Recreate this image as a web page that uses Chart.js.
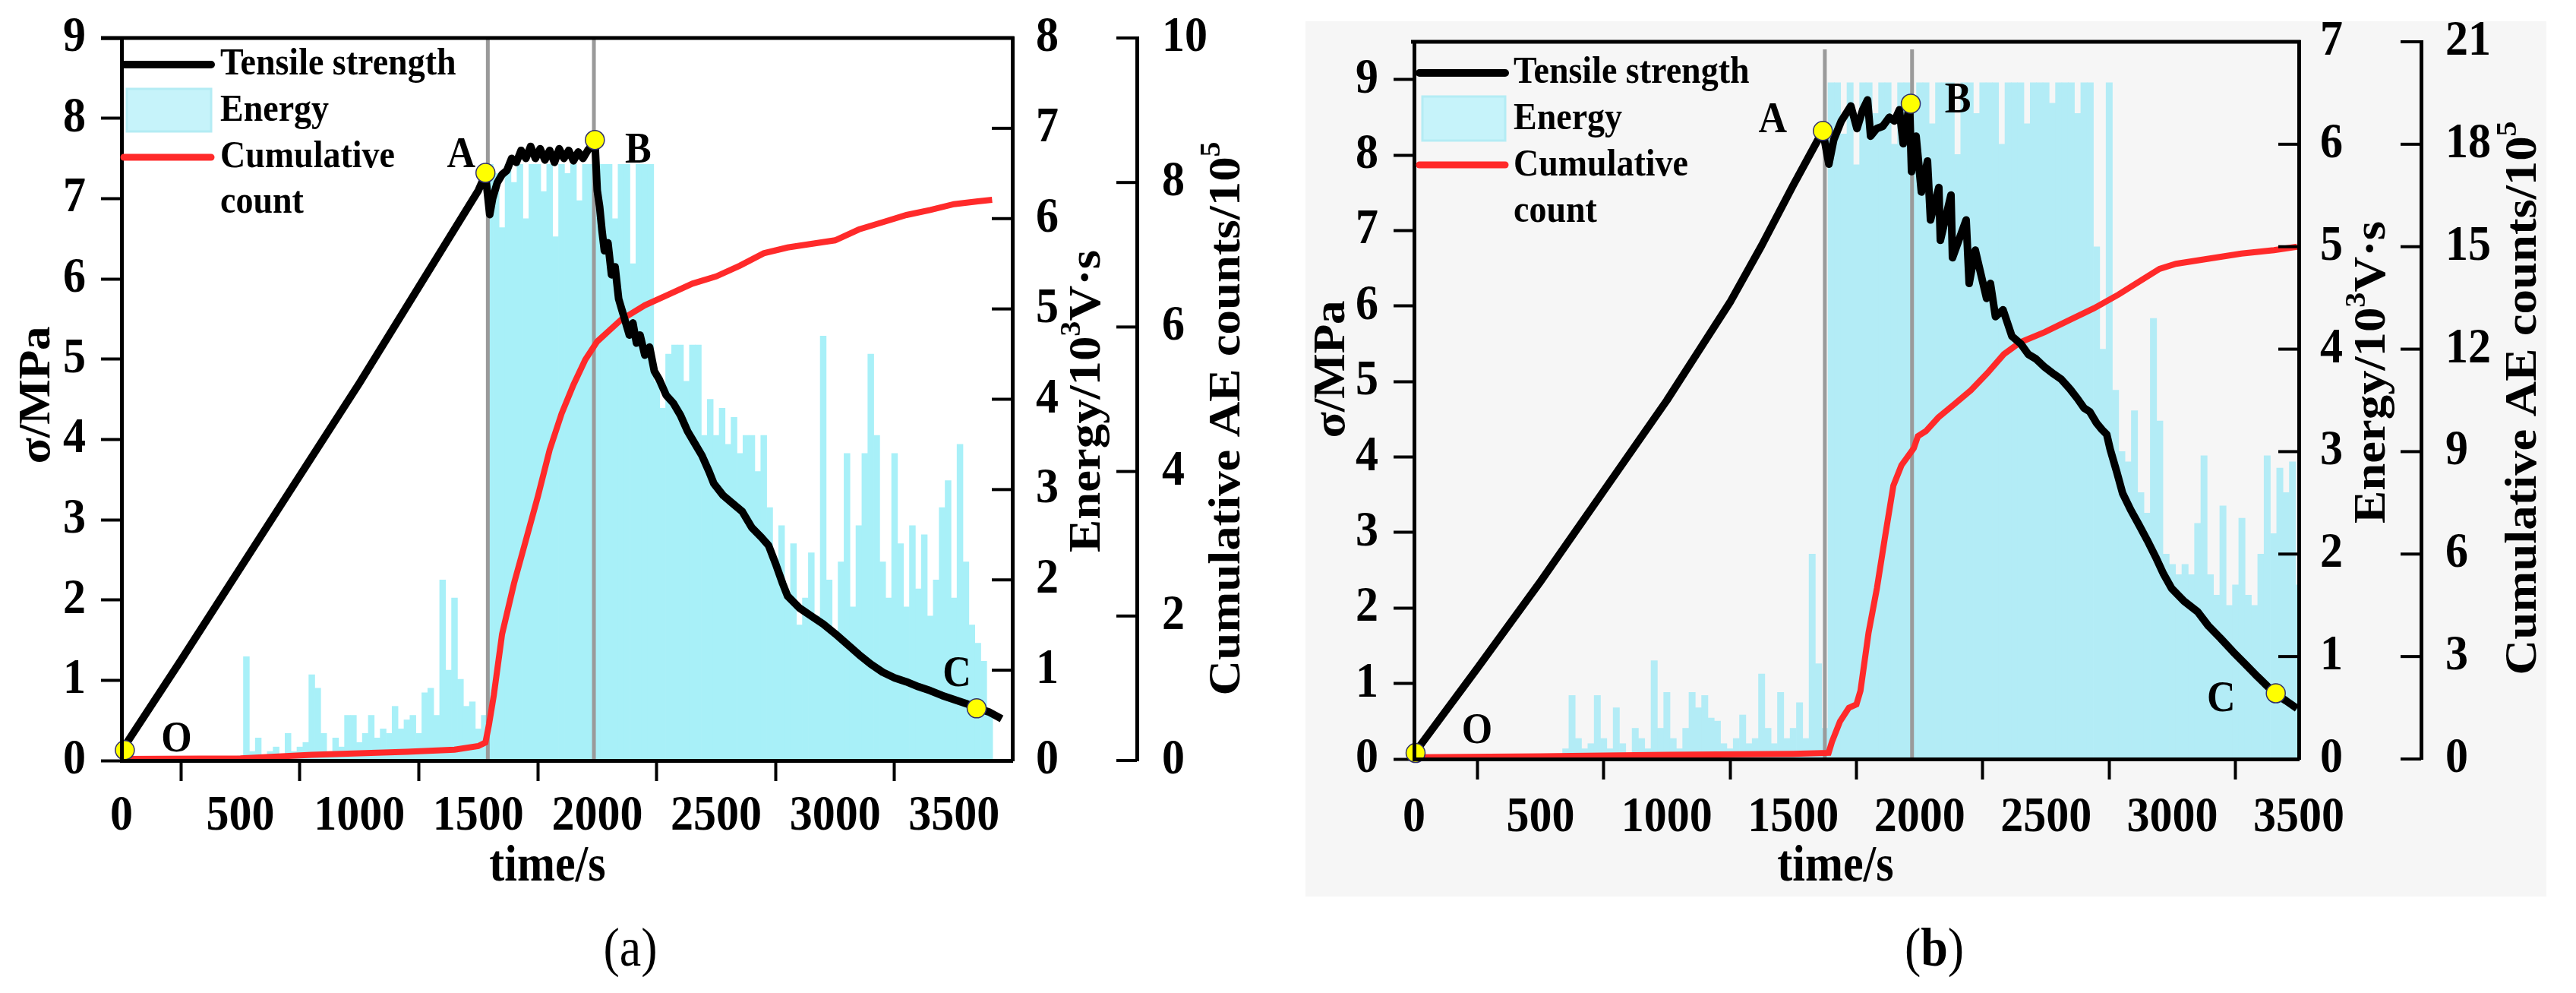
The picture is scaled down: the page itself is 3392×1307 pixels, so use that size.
<!DOCTYPE html>
<html>
<head>
<meta charset="utf-8">
<script src="https://cdn.jsdelivr.net/npm/chart.js@4.4.0/dist/chart.umd.min.js"></script>
<style>
  body { margin: 0; background: #fff; width: 3392px; height: 1307px; position: relative; overflow: hidden; }
  #bgB { position: absolute; left: 1719px; top: 28px; width: 1634px; height: 1152px; background: #f6f6f6; }
  canvas { position: absolute; top: 0; }
  #chartA { left: 0; }
  #chartB { left: 1700px; }
</style>
</head>
<body>
<div id="bgB"></div>
<canvas id="chartA" width="1700" height="1307"></canvas>
<canvas id="chartB" width="1692" height="1307"></canvas>
<script>
// ---- data ----
const keyLabels = ['O', 'A', 'B', 'C'];
const ENERGY_STEP = 25; // energy bars are read every 25 s starting at 0 s
const timeTicks = [0, 500, 1000, 1500, 2000, 2500, 3000, 3500];
const stressTicks = [0, 1, 2, 3, 4, 5, 6, 7, 8, 9];

// (a) tensile strength, MPa
const timeStressA = [0, 250, 500, 750, 1000, 1250, 1500, 1530, 1548, 1560, 1580, 1600, 1620, 1640, 1660, 1680, 1700,
  1720, 1740, 1760, 1780, 1800, 1820, 1840, 1860, 1880, 1900, 1920, 1940, 1960, 1975, 1990, 2000, 2010, 2020, 2030,
  2045, 2060, 2075, 2090, 2105, 2120, 2135, 2150, 2165, 2180, 2200, 2220, 2240, 2260, 2290, 2320, 2350, 2380, 2410,
  2440, 2470, 2490, 2530, 2570, 2610, 2650, 2690, 2720, 2750, 2780, 2800, 2850, 2900, 2950, 3000, 3050, 3100, 3150,
  3200, 3250, 3300, 3350, 3400, 3450, 3500, 3550, 3600, 3650, 3700];
const stressA = [0.12, 1.25, 2.4, 3.55, 4.7, 5.9, 7.1, 7.3, 6.8, 7.0, 7.2, 7.3, 7.35, 7.5, 7.45, 7.6, 7.5,
  7.65, 7.5, 7.62, 7.48, 7.6, 7.45, 7.62, 7.5, 7.6, 7.47, 7.58, 7.5, 7.6, 7.65, 7.73, 7.1, 6.9, 6.6, 6.35,
  6.45, 6.05, 6.15, 5.75, 5.6, 5.45, 5.3, 5.45, 5.2, 5.3, 5.05, 5.15, 4.85, 4.75, 4.55, 4.45, 4.3, 4.1, 3.95,
  3.8, 3.6, 3.45, 3.3, 3.2, 3.1, 2.9, 2.78, 2.68, 2.45, 2.2, 2.05, 1.9, 1.8, 1.7, 1.58, 1.45, 1.32, 1.2,
  1.1, 1.03, 0.98, 0.92, 0.87, 0.81, 0.76, 0.71, 0.65, 0.6, 0.52];
// (a) cumulative AE counts, x10^5
const timeCountA = [0, 500, 800, 1000, 1200, 1400, 1500, 1530, 1545, 1565, 1600, 1650, 1700, 1750, 1800, 1850, 1900,
  1950, 2000, 2050, 2100, 2150, 2200, 2300, 2400, 2500, 2600, 2700, 2800, 2900, 3000, 3100, 3200, 3300, 3400, 3500,
  3600, 3660];
const countA = [0.02, 0.03, 0.08, 0.1, 0.12, 0.15, 0.2, 0.25, 0.5, 0.9, 1.75, 2.45, 3.05, 3.65, 4.3, 4.8, 5.2,
  5.55, 5.8, 5.95, 6.1, 6.2, 6.3, 6.45, 6.6, 6.7, 6.85, 7.02, 7.1, 7.15, 7.2, 7.35, 7.45, 7.55, 7.62, 7.7,
  7.74, 7.76];
// (a) energy, 10^3 V.s
const energyA = [
  0, 0, 0, 0, 0, 0, 0, 0, 0, 0,
  0, 0, 0, 0, 0, 0, 0, 0, 0, 0,
  0.05, 1.15, 0.1, 0.25, 0.05, 0.1, 0.15, 0.05, 0.3, 0.1,
  0.15, 0.2, 0.95, 0.8, 0.3, 0.1, 0.25, 0.15, 0.5, 0.5,
  0.2, 0.3, 0.5, 0.25, 0.35, 0.3, 0.6, 0.35, 0.45, 0.5,
  0.3, 0.75, 0.8, 0.5, 2.0, 1.0, 1.8, 0.9, 0.6, 0.65,
  0.35, 0.5, 6.6, 6.5, 5.9, 6.6, 6.4, 6.6, 6.0, 6.6,
  6.6, 6.3, 6.6, 5.8, 6.6, 6.5, 6.6, 6.2, 6.6, 6.6,
  6.4, 6.6, 6.6, 6.0, 6.6, 6.6, 5.5, 6.6, 6.6, 6.6,
  4.2, 3.9, 4.5, 4.6, 4.6, 4.2, 4.6, 4.6, 3.6, 4.0,
  3.6, 3.9, 3.5, 3.8, 3.4, 3.6, 3.6, 3.2, 3.6, 2.8,
  2.2, 2.6, 1.8, 2.4, 1.5, 1.8, 2.3, 1.6, 4.7, 2.0,
  1.4, 2.2, 3.4, 1.7, 2.6, 3.4, 4.5, 3.6, 2.2, 1.8,
  3.4, 2.4, 1.7, 2.6, 1.9, 2.5, 1.6, 2.0, 2.8, 3.1,
  1.8, 3.5, 2.2, 1.5, 1.3, 1.1, 0.5, 0, 0, 0];
const energyTicksA = [0, 1, 2, 3, 4, 5, 6, 7, 8];
const countTicksA = [0, 2, 4, 6, 8, 10];
const markerTimesA = [1540, 1986];
const markerTopA = 9;
const keyTimesA = [14, 1530, 1990, 3595];
const keyStressA = [0.13, 7.32, 7.73, 0.65];

// (b)
const timeStressB = [0, 250, 500, 750, 1000, 1125, 1250, 1375, 1500, 1617, 1641, 1660, 1690, 1728, 1752, 1775, 1794,
  1806, 1830, 1854, 1880, 1900, 1920, 1935, 1960, 1968, 1986, 2007, 2031, 2043, 2076, 2082, 2124, 2130, 2184, 2196,
  2220, 2265, 2280, 2300, 2330, 2365, 2400, 2430, 2460, 2495, 2530, 2560, 2595, 2625, 2650, 2673, 2700, 2722, 2740,
  2754, 2780, 2803, 2835, 2868, 2900, 2933, 2965, 2997, 3046, 3100, 3143, 3190, 3240, 3290, 3337, 3380, 3409, 3450,
  3493];
const stressB = [0.07, 1.2, 2.35, 3.55, 4.75, 5.4, 6.05, 6.8, 7.6, 8.32, 7.88, 8.2, 8.45, 8.65, 8.35, 8.6, 8.73,
  8.25, 8.35, 8.38, 8.5, 8.45, 8.6, 8.15, 8.68, 7.78, 8.25, 7.51, 7.92, 7.14, 7.57, 6.87, 7.47, 6.64, 7.14, 6.3,
  6.74, 6.1, 6.3, 5.86, 5.95, 5.6, 5.5, 5.36, 5.3, 5.19, 5.1, 5.03, 4.9, 4.77, 4.65, 4.6, 4.45, 4.36, 4.3,
  4.1, 3.8, 3.52, 3.3, 3.1, 2.9, 2.68, 2.45, 2.26, 2.09, 1.95, 1.76, 1.6, 1.42, 1.25, 1.09, 0.95, 0.86, 0.77,
  0.67];
const timeCountB = [0, 500, 1000, 1500, 1640, 1653, 1685, 1720, 1750, 1766, 1798, 1831, 1863, 1896, 1928, 1977, 1993,
  2025, 2074, 2139, 2203, 2268, 2333, 2398, 2495, 2592, 2690, 2787, 2884, 2949, 3014, 3143, 3273, 3402, 3493];
const countB = [0.05, 0.08, 0.12, 0.15, 0.18, 0.5, 1.1, 1.5, 1.6, 2.0, 3.7, 5.0, 6.5, 8.0, 8.6, 9.1, 9.45,
  9.6, 10.0, 10.4, 10.8, 11.3, 11.85, 12.2, 12.5, 12.85, 13.2, 13.6, 14.05, 14.35, 14.5, 14.65, 14.8, 14.9, 15.0];
const energyB = [
  0, 0, 0, 0, 0, 0, 0, 0, 0, 0,
  0, 0, 0, 0, 0, 0, 0, 0, 0, 0,
  0, 0, 0, 0, 0.1, 0.62, 0.2, 0.1, 0.15, 0.62,
  0.2, 0.1, 0.5, 0.15, 0.05, 0.3, 0.2, 0.1, 0.96, 0.3,
  0.65, 0.2, 0.1, 0.3, 0.65, 0.5, 0.62, 0.4, 0.37, 0.15,
  0.1, 0.2, 0.43, 0.15, 0.2, 0.83, 0.3, 0.15, 0.65, 0.2,
  0.3, 0.55, 0.2, 2.0, 0.93, 0.3, 6.6, 6.6, 6.1, 6.6,
  5.8, 6.6, 6.6, 6.3, 6.6, 6.6, 6.0, 6.6, 6.6, 6.4,
  6.6, 6.6, 6.2, 6.6, 6.6, 6.6, 5.9, 6.6, 6.6, 6.3,
  6.6, 6.6, 6.6, 6.0, 6.6, 6.6, 6.6, 6.2, 6.6, 6.6,
  6.6, 6.4, 6.6, 6.6, 6.6, 6.3, 6.6, 6.6, 5.0, 4.0,
  6.6, 3.6, 3.0, 2.9, 3.4, 2.6, 2.4, 4.3, 3.3, 2.0,
  1.9, 1.8, 1.9, 1.8, 2.3, 2.96, 1.8, 1.6, 2.47, 1.5,
  1.7, 2.35, 1.6, 1.5, 2.0, 2.96, 2.2, 2.84, 2.6, 2.9,
  1.7];
const energyTicksB = [0, 1, 2, 3, 4, 5, 6, 7];
const countTicksB = [0, 3, 6, 9, 12, 15, 18, 21];
const markerTimesB = [1625, 1970];
const markerTopB = 9.4;
const keyTimesB = [6, 1617, 1965, 3409];
const keyStressB = [0.08, 8.32, 8.68, 0.87];

// ---- drawing ----
const FONT = "'Liberation Serif', 'Times New Roman', serif";

// text with optional superscripts
function richText(ctx, parts, cx, cy, o) {
    const size = o.size || 60, rot = o.rot || 0, sx = o.sx || 1, sy = o.sy || 1;
    ctx.save();
    ctx.translate(cx, cy);
    ctx.rotate(rot);
    ctx.scale(sx, sy);
    ctx.fillStyle = '#000';
    ctx.textBaseline = 'middle';
    ctx.textAlign = 'left';
    let total = 0;
    const items = parts.map(p => {
        const sz = p.sup ? size * 0.62 : size;
        const bold = p.bold === undefined ? (o.bold !== false) : p.bold;
        const font = (bold ? 'bold ' : '') + sz + 'px ' + FONT;
        ctx.font = font;
        const w = ctx.measureText(p.t).width;
        total += w;
        return { t: p.t, font, w, dy: p.sup ? -size * 0.32 : 0 };
    });
    let x = o.align === 'left' ? 0 : o.align === 'right' ? -total : -total / 2;
    items.forEach(it => { ctx.font = it.font; ctx.fillText(it.t, x, it.dy); x += it.w; });
    ctx.restore();
}

const extras = {
    id: 'extras',
    afterDraw(chart, args, o) {
        const { ctx, chartArea: a, scales } = chart;
        ctx.save();
        ctx.strokeStyle = '#000';
        ctx.lineWidth = 5;
        ctx.beginPath();
        ctx.moveTo(a.left - o.topOverhang, a.top);
        ctx.lineTo(a.right + 2.5, a.top);
        ctx.stroke();

        // ticks of the two right axes point into the plot
        ctx.lineWidth = 4;
        ['y2', 'y3'].forEach(id => {
            const sc = scales[id];
            sc.ticks.forEach(t => {
                const py = sc.getPixelForValue(t.value);
                ctx.beginPath();
                ctx.moveTo(sc.left - 27, py);
                ctx.lineTo(sc.left, py);
                ctx.stroke();
            });
        });

        // tick labels (the figure's Times digits are a little tall)
        const tl = { size: 60, sy: 1.1 };
        scales.x.ticks.forEach(t => richText(ctx, [{ t: String(t.value) }],
            scales.x.getPixelForValue(t.value), o.xLabelY, tl));
        scales.y.ticks.forEach(t => richText(ctx, [{ t: String(t.value) }],
            a.left - o.yLabelGap, scales.y.getPixelForValue(t.value), Object.assign({ align: 'right' }, tl)));
        scales.y2.ticks.forEach(t => richText(ctx, [{ t: String(t.value) }],
            scales.y2.left + o.y2Pad, scales.y2.getPixelForValue(t.value), Object.assign({ align: 'left' }, tl)));
        scales.y3.ticks.forEach(t => richText(ctx, [{ t: String(t.value) }],
            scales.y3.left + o.y3Pad, scales.y3.getPixelForValue(t.value), Object.assign({ align: 'left' }, tl)));

        // O A B C
        o.keyTimes.forEach((t, i) => {
            const off = o.labelOffsets[i];
            richText(ctx, [{ t: keyLabels[i] }],
                scales.x.getPixelForValue(t) + off[0], scales.y.getPixelForValue(o.keyStress[i]) + off[1],
                { size: 52, sy: 1.1 });
        });

        // legend
        const L = o.legend;
        ctx.lineCap = 'round';
        ctx.lineWidth = 10;
        ctx.strokeStyle = '#000';
        ctx.beginPath(); ctx.moveTo(L.x0, L.yBlack); ctx.lineTo(L.x1, L.yBlack); ctx.stroke();
        ctx.fillStyle = '#c6f3fa';
        ctx.fillRect(L.x0 + 4, L.box[0], L.x1 - L.x0 - 4, L.box[1] - L.box[0]);
        ctx.lineWidth = 3;
        ctx.strokeStyle = '#b4ecf4';
        ctx.strokeRect(L.x0 + 4, L.box[0], L.x1 - L.x0 - 4, L.box[1] - L.box[0]);
        ctx.lineWidth = 9;
        ctx.strokeStyle = '#ff2a2a';
        ctx.beginPath(); ctx.moveTo(L.x0, L.yRed); ctx.lineTo(L.x1, L.yRed); ctx.stroke();
        ['Tensile strength', 'Energy', 'Cumulative', 'count'].forEach((s, i) => {
            richText(ctx, [{ t: s }], L.textX, L.textY[i], { size: 46, sy: 1.08, align: 'left' });
        });

        // axis titles and caption
        const T = o.titles;
        richText(ctx, [{ t: 'σ/MPa' }], T.sigma[0], T.sigma[1], { size: 60, rot: -Math.PI / 2, sx: 1.05 });
        richText(ctx, [{ t: 'time/s' }], T.time[0], T.time[1], { size: 60, sy: 1.12 });
        richText(ctx, [{ t: 'Energy/10' }, { t: '3', sup: true }, { t: 'V·s' }],
            T.energy[0], T.energy[1], { size: 60, rot: -Math.PI / 2, sx: 1.08 });
        richText(ctx, [{ t: 'Cumulative AE counts/10' }, { t: '5', sup: true }],
            T.cum[0], T.cum[1], { size: 60, rot: -Math.PI / 2, sx: 1.08 });
        richText(ctx, [{ t: '(', bold: false }, { t: o.caption, bold: o.captionBold }, { t: ')', bold: false }],
            T.caption[0], T.caption[1], { size: 64, sy: 1.12 });
        ctx.restore();
    }
};

function buildPanel(canvasId, d, look) {
    const xy = (xs, ys) => xs.map((x, i) => ({ x, y: ys[i] }));
    const energyPts = d.energy.map((v, i) => ({ x: i * ENERGY_STEP, y: v }));
    const useTicks = arr => s => { s.ticks = arr.map(v => ({ value: v })); };
    const datasets = [
        { type: 'bar', data: energyPts, yAxisID: 'y2', backgroundColor: look.energyColor,
          barPercentage: 1, categoryPercentage: 1, borderWidth: 0, order: 4 },
        ...d.markers.map(t => ({ type: 'line', data: [{ x: t, y: 0 }, { x: t, y: d.markerTop }], yAxisID: 'y',
          borderColor: '#9a9a9a', borderWidth: 5, pointRadius: 0, order: 3 })),
        { type: 'line', data: xy(d.tCount, d.count), yAxisID: 'y3', borderColor: '#ff2a2a', borderWidth: 8,
          pointRadius: 0, tension: 0, order: 2 },
        { type: 'line', data: xy(d.tStress, d.stress), yAxisID: 'y', borderColor: '#000', borderWidth: 10,
          borderJoinStyle: 'round', pointRadius: 0, tension: 0, order: 1 },
        { type: 'line', data: xy(d.keyT, d.keyS), yAxisID: 'y', showLine: false, pointRadius: 12.5,
          pointBackgroundColor: '#ffff00', pointBorderColor: '#30306a', pointBorderWidth: 1.5, clip: false, order: 0 }
    ];
    const border = { display: true, color: '#000', width: 5, z: 1 };
    const outTicks = { drawOnChartArea: false, tickLength: 27, tickWidth: 4, tickColor: '#000' };
    const noTicks = { drawOnChartArea: false, drawTicks: false };
    const hidden = { display: false };
    return new Chart(document.getElementById(canvasId), {
        type: 'line',
        data: { datasets },
        plugins: [extras],
        options: {
            responsive: false,
            devicePixelRatio: 1,
            animation: false,
            events: [],
            layout: { padding: { top: look.top, left: 0, right: 0, bottom: 0 } },
            plugins: {
                legend: { display: false },
                tooltip: { enabled: false },
                extras: {
                    topOverhang: look.topOverhang,
                    xLabelY: look.xLabelY, yLabelGap: look.yLabelGap, y2Pad: look.y2Pad, y3Pad: look.y3Pad,
                    keyTimes: d.keyT, keyStress: d.keyS,
                    labelOffsets: look.labelOffsets,
                    legend: look.legend,
                    titles: look.titles,
                    caption: look.caption, captionBold: look.captionBold
                }
            },
            scales: {
                x: { type: 'linear', min: 0, max: d.xMax, offset: false, ticks: hidden,
                     afterBuildTicks: useTicks(d.xTicks),
                     grid: outTicks, border, afterFit: s => { s.height = look.xH; } },
                y: { type: 'linear', position: 'left', min: 0, max: d.yMax, ticks: hidden,
                     afterBuildTicks: useTicks(d.yTicks),
                     grid: outTicks, border, afterFit: s => { s.width = look.yW; } },
                y2: { type: 'linear', position: 'right', weight: 0, min: 0, max: d.eMax, ticks: hidden,
                      afterBuildTicks: useTicks(d.eTicks),
                      grid: noTicks, border, afterFit: s => { s.width = look.y2W; } },
                y3: { type: 'linear', position: 'right', weight: 1, min: 0, max: d.cMax, ticks: hidden,
                      afterBuildTicks: useTicks(d.cTicks),
                      grid: noTicks, border, afterFit: s => { s.width = look.y3W; } }
            }
        }
    });
}

buildPanel('chartA', {
    tStress: timeStressA, stress: stressA, tCount: timeCountA, count: countA, energy: energyA,
    markers: markerTimesA, markerTop: markerTopA, keyT: keyTimesA, keyS: keyStressA,
    xTicks: timeTicks, yTicks: stressTicks, eTicks: energyTicksA, cTicks: countTicksA,
    xMax: 3745, yMax: 9, eMax: 8, cMax: 10
}, {
    energyColor: '#a8f0f8', top: 50, xH: 306, yW: 160, y2W: 164, y3W: 203,
    xLabelY: 1075, yLabelGap: 47, y2Pad: 31, y3Pad: 33, topOverhang: 27,
    labelOffsets: [[68, -13], [-32, -22], [57, 15], [-26, -44]],
    legend: { x0: 163, x1: 278, yBlack: 85, box: [117, 173], yRed: 207, textX: 290, textY: [85, 146, 207, 267] },
    titles: { sigma: [49, 520], time: [721, 1142], energy: [1432, 528], cum: [1616, 551], caption: [830, 1252] },
    caption: 'a', captionBold: false
});

buildPanel('chartB', {
    tStress: timeStressB, stress: stressB, tCount: timeCountB, count: countB, energy: energyB,
    markers: markerTimesB, markerTop: markerTopB, keyT: keyTimesB, keyS: keyStressB,
    xTicks: timeTicks, yTicks: stressTicks, eTicks: energyTicksB, cTicks: countTicksB,
    xMax: 3500, yMax: 9.5, eMax: 7, cMax: 21
}, {
    energyColor: '#b3ecf6', top: 55, xH: 308, yW: 162, y2W: 161, y3W: 204,
    xLabelY: 1077, yLabelGap: 47, y2Pad: 28, y3Pad: 32, topOverhang: 4,
    labelOffsets: [[81, -28], [-66, -13], [62, -3], [-72, 9]],
    legend: { x0: 169, x1: 282, yBlack: 96, box: [127, 185], yRed: 217, textX: 293, textY: [96, 157, 218, 279] },
    titles: { sigma: [54, 486], time: [717, 1142], energy: [1424, 490], cum: [1623, 524], caption: [847, 1252] },
    caption: 'b', captionBold: true
});
</script>
</body>
</html>
